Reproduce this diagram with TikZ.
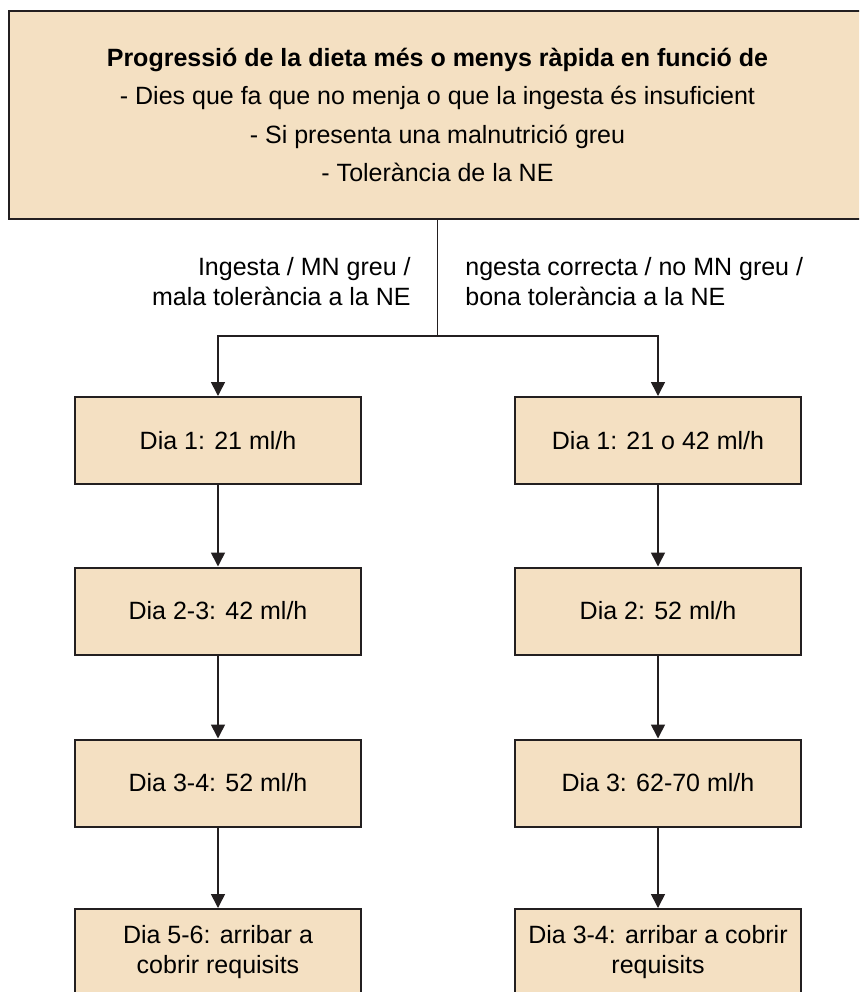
\documentclass[tikz,border=0pt]{standalone}
\usepackage{fontspec}
\setmainfont{Liberation Sans}
\usetikzlibrary{arrows.meta, positioning}
\definecolor{Beige}   {HTML}{F4E0C2}
\definecolor{LineDark}{HTML}{231F20}

\begin{document}
\begin{tikzpicture}[x=0.5pt, y=-0.5pt, font=\fontsize{12.5}{15}\selectfont,
    daybox/.style={draw=LineDark, fill=Beige, line width=1pt, align=center,
                   minimum width=143pt, minimum height=43.5pt, inner sep=0pt},
    flow/.style={-{Triangle[length=7pt, width=7pt]}, LineDark, line width=0.8pt}]
  \useasboundingbox (0,0) rectangle (859,992);
  \clip (0,0) rectangle (859,992);
  % Header box, wider than the page on the right
  \node[draw=LineDark, fill=Beige, line width=1pt, align=center, inner sep=0pt,
        minimum width=428.5pt, minimum height=104pt,
        font=\fontsize{12.5}{19.3}\selectfont] (head) at (437.5,115)
    {\textbf{Progressió de la dieta més o menys ràpida en funció de}\\
     - Dies que fa que no menja o que la ingesta és insuficient\\
     - Si presenta una malnutrició greu\\
     - Tolerància de la NE};
  % Two branches: slow (left) and fast (right)
  \coordinate (split) at (437.5,336);
  \node[anchor=east, align=right, inner sep=0pt] (slowlab) at (411,282)
    {Ingesta / MN greu /\\mala tolerància a la NE};
  \node[anchor=west, align=left, inner sep=0pt] (fastlab) at (465,282)
    {ngesta correcta / no MN greu /\\bona tolerància a la NE};
  \node[daybox] (slow1) at (218,440.5) {Dia 1: 21 ml/h};
  \node[daybox] (slow2) at (218,611)   {Dia 2-3: 42 ml/h};
  \node[daybox] (slow3) at (218,783)   {Dia 3-4: 52 ml/h};
  \node[daybox] (slow4) at (218,952.5) {Dia 5-6: arribar a\\cobrir requisits};
  \node[daybox] (fast1) at (658,440.5) {Dia 1: 21 o 42 ml/h};
  \node[daybox] (fast2) at (658,611)   {Dia 2: 52 ml/h};
  \node[daybox] (fast3) at (658,783)   {Dia 3: 62-70 ml/h};
  \node[daybox] (fast4) at (658,952.5) {Dia 3-4: arribar a cobrir\\requisits};
  % Connectors
  \draw[LineDark, line width=0.8pt] (head) -- (split);
  \draw[flow] (split) -| (slow1);
  \draw[flow] (split) -| (fast1);
  \draw[flow] (slow1) -- (slow2);
  \draw[flow] (slow2) -- (slow3);
  \draw[flow] (slow3) -- (slow4);
  \draw[flow] (fast1) -- (fast2);
  \draw[flow] (fast2) -- (fast3);
  \draw[flow] (fast3) -- (fast4);
\end{tikzpicture}
\end{document}
